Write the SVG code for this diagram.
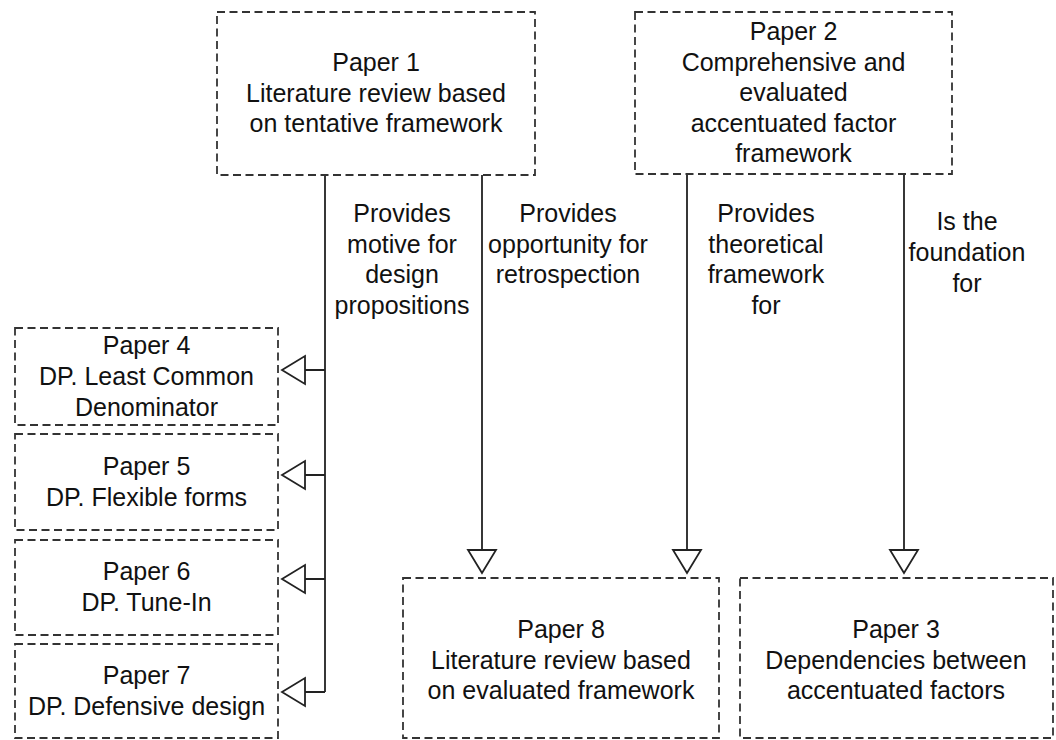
<svg xmlns="http://www.w3.org/2000/svg" width="1056" height="740" viewBox="0 0 1056 740">
<style>
.box{fill:#fff;stroke:#333;stroke-width:1.8;stroke-dasharray:8 4.5}
.t{font-family:"Liberation Sans",Arial,Helvetica,sans-serif;font-size:25px;fill:#111;text-anchor:middle}
.ln{fill:none;stroke:#222;stroke-width:1.8}
.ah{fill:#fff;stroke:#222;stroke-width:1.8;stroke-linejoin:miter}
</style>
<rect width="1056" height="740" fill="#fff"/>
<g id="connectors">
<path class="ln" d="M325,175 V692 M325,370 H305 M325,475 H305 M325,579 H305 M325,692 H305"/>
<polygon class="ah" points="282,370 305,356 305,384"/>
<polygon class="ah" points="282,475 305,461 305,489"/>
<polygon class="ah" points="282,579 305,565 305,593"/>
<polygon class="ah" points="282,692 305,678 305,706"/>
<path class="ln" d="M482,175 V550 M687,175 V550 M904,175 V550"/>
<polygon class="ah" points="482,573 468,550 496,550"/>
<polygon class="ah" points="687,573 673,550 701,550"/>
<polygon class="ah" points="904,573 890,550 918,550"/>
<text class="t"><tspan x="402" y="222">Provides</tspan><tspan x="402" y="252.5">motive for</tspan><tspan x="402" y="283">design</tspan><tspan x="402" y="313.5">propositions</tspan></text>
<text class="t"><tspan x="568" y="222">Provides</tspan><tspan x="568" y="252.5">opportunity for</tspan><tspan x="568" y="283">retrospection</tspan></text>
<text class="t"><tspan x="766" y="222">Provides</tspan><tspan x="766" y="252.5">theoretical</tspan><tspan x="766" y="283">framework</tspan><tspan x="766" y="313.5">for</tspan></text>
<text class="t"><tspan x="967" y="230">Is the</tspan><tspan x="967" y="261">foundation</tspan><tspan x="967" y="292">for</tspan></text>
</g>
<g id="paper1">
<rect class="box" x="217" y="12" width="318" height="163"/>
<text class="t"><tspan x="376" y="71">Paper 1</tspan><tspan x="376" y="101.5">Literature review based</tspan><tspan x="376" y="132">on tentative framework</tspan></text>
</g>
<g id="paper2">
<rect class="box" x="635" y="12" width="317" height="162"/>
<text class="t"><tspan x="793.5" y="40">Paper 2</tspan><tspan x="793.5" y="70.5">Comprehensive and</tspan><tspan x="793.5" y="101">evaluated</tspan><tspan x="793.5" y="131.5">accentuated factor</tspan><tspan x="793.5" y="162">framework</tspan></text>
</g>
<g id="paper4">
<rect class="box" x="15" y="328" width="263" height="97"/>
<text class="t"><tspan x="146.5" y="354">Paper 4</tspan><tspan x="146.5" y="385">DP. Least Common</tspan><tspan x="146.5" y="416">Denominator</tspan></text>
</g>
<g id="paper5">
<rect class="box" x="15" y="434" width="263" height="96"/>
<text class="t"><tspan x="146.5" y="475">Paper 5</tspan><tspan x="146.5" y="506">DP. Flexible forms</tspan></text>
</g>
<g id="paper6">
<rect class="box" x="15" y="540" width="263" height="95"/>
<text class="t"><tspan x="146.5" y="580">Paper 6</tspan><tspan x="146.5" y="611">DP. Tune-In</tspan></text>
</g>
<g id="paper7">
<rect class="box" x="15" y="644" width="263" height="94"/>
<text class="t"><tspan x="146.5" y="684">Paper 7</tspan><tspan x="146.5" y="715">DP. Defensive design</tspan></text>
</g>
<g id="paper8">
<rect class="box" x="403" y="578" width="316" height="160"/>
<text class="t"><tspan x="561" y="638">Paper 8</tspan><tspan x="561" y="668.5">Literature review based</tspan><tspan x="561" y="699">on evaluated framework</tspan></text>
</g>
<g id="paper3">
<rect class="box" x="740" y="578" width="313" height="160"/>
<text class="t"><tspan x="896" y="638">Paper 3</tspan><tspan x="896" y="668.5">Dependencies between</tspan><tspan x="896" y="699">accentuated factors</tspan></text>
</g>
</svg>
